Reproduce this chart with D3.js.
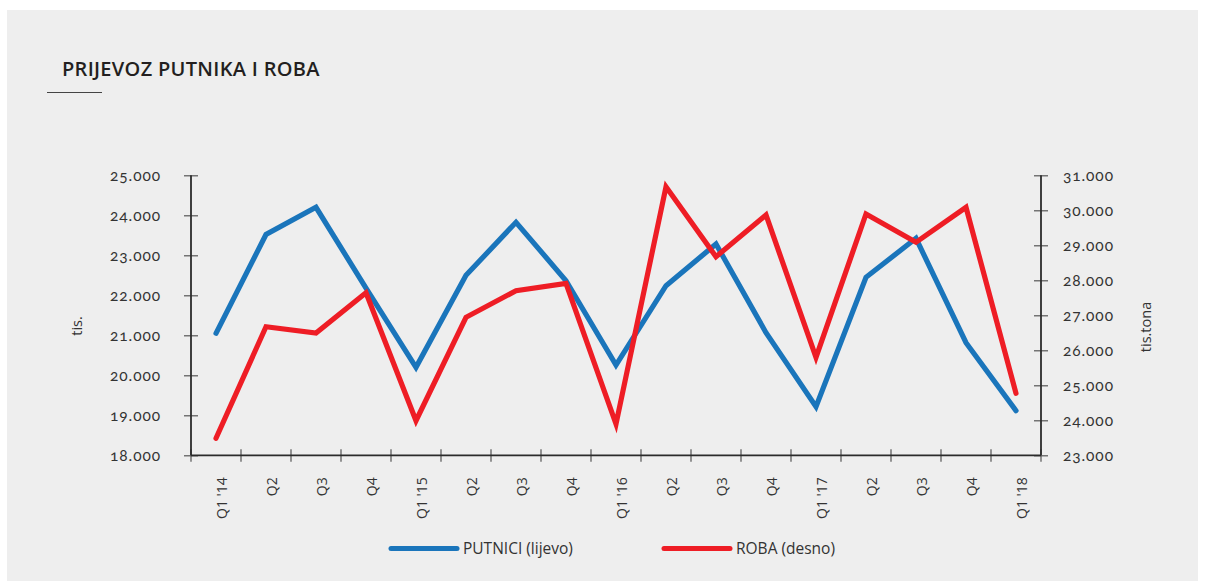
<!DOCTYPE html>
<html>
<head>
<meta charset="utf-8">
<script src="https://cdn.jsdelivr.net/npm/d3@7"></script>
<style>
  html, body { margin: 0; padding: 0; background: #ffffff; }
  svg { display: block; }
  .tick-lbl { font-family: Lato, "Open Sans", sans-serif; font-variant-numeric: oldstyle-nums; font-feature-settings: "onum" 1; letter-spacing: 0.9px; }
</style>
</head>
<body>
<svg id="chart" width="1205" height="587"></svg>
<script>
// ---- data ----
const categories = ["Q1 '14","Q2","Q3","Q4","Q1 '15","Q2","Q3","Q4","Q1 '16","Q2","Q3","Q4","Q1 '17","Q2","Q3","Q4","Q1 '18"];
const putnici = [21050, 23520, 24200, 22180, 20200, 22500, 23825, 22365, 20257, 22240, 23282, 21065, 19215, 22450, 23425, 20815, 19115];
const roba    = [23486, 26674, 26494, 27646, 23989, 26943, 27703, 27914, 23894, 30674, 28674, 29866, 25800, 29894, 29086, 30086, 24771];
const leftTicks  = [18000, 19000, 20000, 21000, 22000, 23000, 24000, 25000];
const rightTicks = [23000, 24000, 25000, 26000, 27000, 28000, 29000, 30000, 31000];
const seriesNames = ["PUTNICI (lijevo)", "ROBA (desno)"];
const seriesColors = ["#1a75bb", "#ee1d25"];
const title = "PRIJEVOZ PUTNIKA I ROBA";

// ---- layout ----
const svg = d3.select("#chart");
const plot = {left: 191, right: 1041, top: 175.3, bottom: 455.3};

svg.append("rect").attr("x", 7).attr("y", 10).attr("width", 1191).attr("height", 571).attr("fill", "#eeeeee");

const locale = d3.formatLocale({decimal: ",", thousands: ".", grouping: [3], currency: ["", ""]});
const fmt = locale.format(",");

const x = d3.scaleBand().domain(d3.range(categories.length)).range([plot.left, plot.right]);
const yL = d3.scaleLinear().domain([18000, 25000]).range([plot.bottom, plot.top]);
const yR = d3.scaleLinear().domain([23000, 31000]).range([plot.bottom, plot.top]);

// title
svg.append("text").attr("x", 62).attr("y", 76)
  .attr("font-family", "'Open Sans', sans-serif").attr("font-weight", 600)
  .attr("font-size", 20).attr("letter-spacing", 0.3).attr("fill", "#231f20").text(title);
svg.append("line").attr("x1", 47).attr("x2", 102).attr("y1", 92.5).attr("y2", 92.5)
  .attr("stroke", "#444").attr("stroke-width", 1);

const axisColor = "#2b2b2b";
const tickColor = "#555";

// left axis
const gL = svg.append("g").attr("transform", `translate(${plot.left},0)`)
  .call(d3.axisLeft(yL).tickValues(leftTicks).tickFormat(fmt).tickSize(0).tickPadding(30));
gL.select(".domain").remove();
gL.selectAll(".tick text").attr("class", "tick-lbl").attr("font-size", 15.5).attr("fill", "#333");
gL.selectAll(".tick").append("line").attr("x1", -7).attr("x2", 7).attr("stroke", tickColor).attr("stroke-width", 1.2);

// right axis
const gR = svg.append("g").attr("transform", `translate(${plot.right},0)`)
  .call(d3.axisRight(yR).tickValues(rightTicks).tickFormat(fmt).tickSize(0).tickPadding(22));
gR.select(".domain").remove();
gR.selectAll(".tick text").attr("class", "tick-lbl").attr("font-size", 15.5).attr("fill", "#333");
gR.selectAll(".tick").append("line").attr("x1", -7).attr("x2", 7).attr("stroke", tickColor).attr("stroke-width", 1.2);

// x axis
const gX = svg.append("g").attr("transform", `translate(0,${plot.bottom})`)
  .call(d3.axisBottom(x).tickFormat(i => categories[i]).tickSize(0));
gX.select(".domain").remove();
gX.selectAll(".tick text")
  .attr("font-family", "'Open Sans', sans-serif").attr("font-size", 14).attr("fill", "#333")
  .attr("text-anchor", "end")
  .attr("transform", "translate(6,22) rotate(-90)")
  .attr("x", 0).attr("y", 0).attr("dy", "0.35em");
// x tick marks at band boundaries
const bounds = d3.range(categories.length + 1).map(i => plot.left + i * x.step());
svg.append("g").selectAll("line").data(bounds).join("line")
  .attr("x1", d => d).attr("x2", d => d)
  .attr("y1", plot.bottom - 6).attr("y2", plot.bottom + 6.5)
  .attr("stroke", tickColor).attr("stroke-width", 1.2);

// axis lines
svg.append("line").attr("x1", plot.left).attr("x2", plot.left).attr("y1", plot.top).attr("y2", plot.bottom)
  .attr("stroke", axisColor).attr("stroke-width", 1.8);
svg.append("line").attr("x1", plot.right).attr("x2", plot.right).attr("y1", plot.top).attr("y2", plot.bottom)
  .attr("stroke", axisColor).attr("stroke-width", 1.8);
svg.append("line").attr("x1", plot.left).attr("x2", plot.right).attr("y1", plot.bottom).attr("y2", plot.bottom)
  .attr("stroke", axisColor).attr("stroke-width", 1.8);

// axis titles
svg.append("text").attr("transform", "translate(82,326) rotate(-90)")
  .attr("text-anchor", "middle").attr("font-family", "'Open Sans', sans-serif")
  .attr("font-size", 14.5).attr("fill", "#333").text("tis.");
svg.append("text").attr("transform", "translate(1151,327) rotate(-90)")
  .attr("text-anchor", "middle").attr("font-family", "'Open Sans', sans-serif")
  .attr("font-size", 14.5).attr("fill", "#333").text("tis.tona");

// lines
const cx = i => x(i) + x.bandwidth() / 2;
const lineL = d3.line().x((d, i) => cx(i)).y(d => yL(d));
const lineR = d3.line().x((d, i) => cx(i)).y(d => yR(d));
svg.append("path").datum(putnici).attr("d", lineL).attr("fill", "none")
  .attr("stroke", seriesColors[0]).attr("stroke-width", 5.2)
  .attr("stroke-linecap", "round").attr("stroke-linejoin", "miter");
svg.append("path").datum(roba).attr("d", lineR).attr("fill", "none")
  .attr("stroke", seriesColors[1]).attr("stroke-width", 5.2)
  .attr("stroke-linecap", "round").attr("stroke-linejoin", "miter");

// legend
const legendX = [391, 664];
seriesNames.forEach((name, i) => {
  const g = svg.append("g").attr("transform", `translate(${legendX[i]},548.5)`);
  g.append("line").attr("x1", 0).attr("x2", 66).attr("y1", 0).attr("y2", 0)
    .attr("stroke", seriesColors[i]).attr("stroke-width", 5).attr("stroke-linecap", "round");
  g.append("text").attr("x", 72).attr("y", 0).attr("dy", "0.35em")
    .attr("font-family", "'Open Sans', sans-serif").attr("font-size", 15.5).attr("fill", "#333").text(name);
});
</script>
</body>
</html>
